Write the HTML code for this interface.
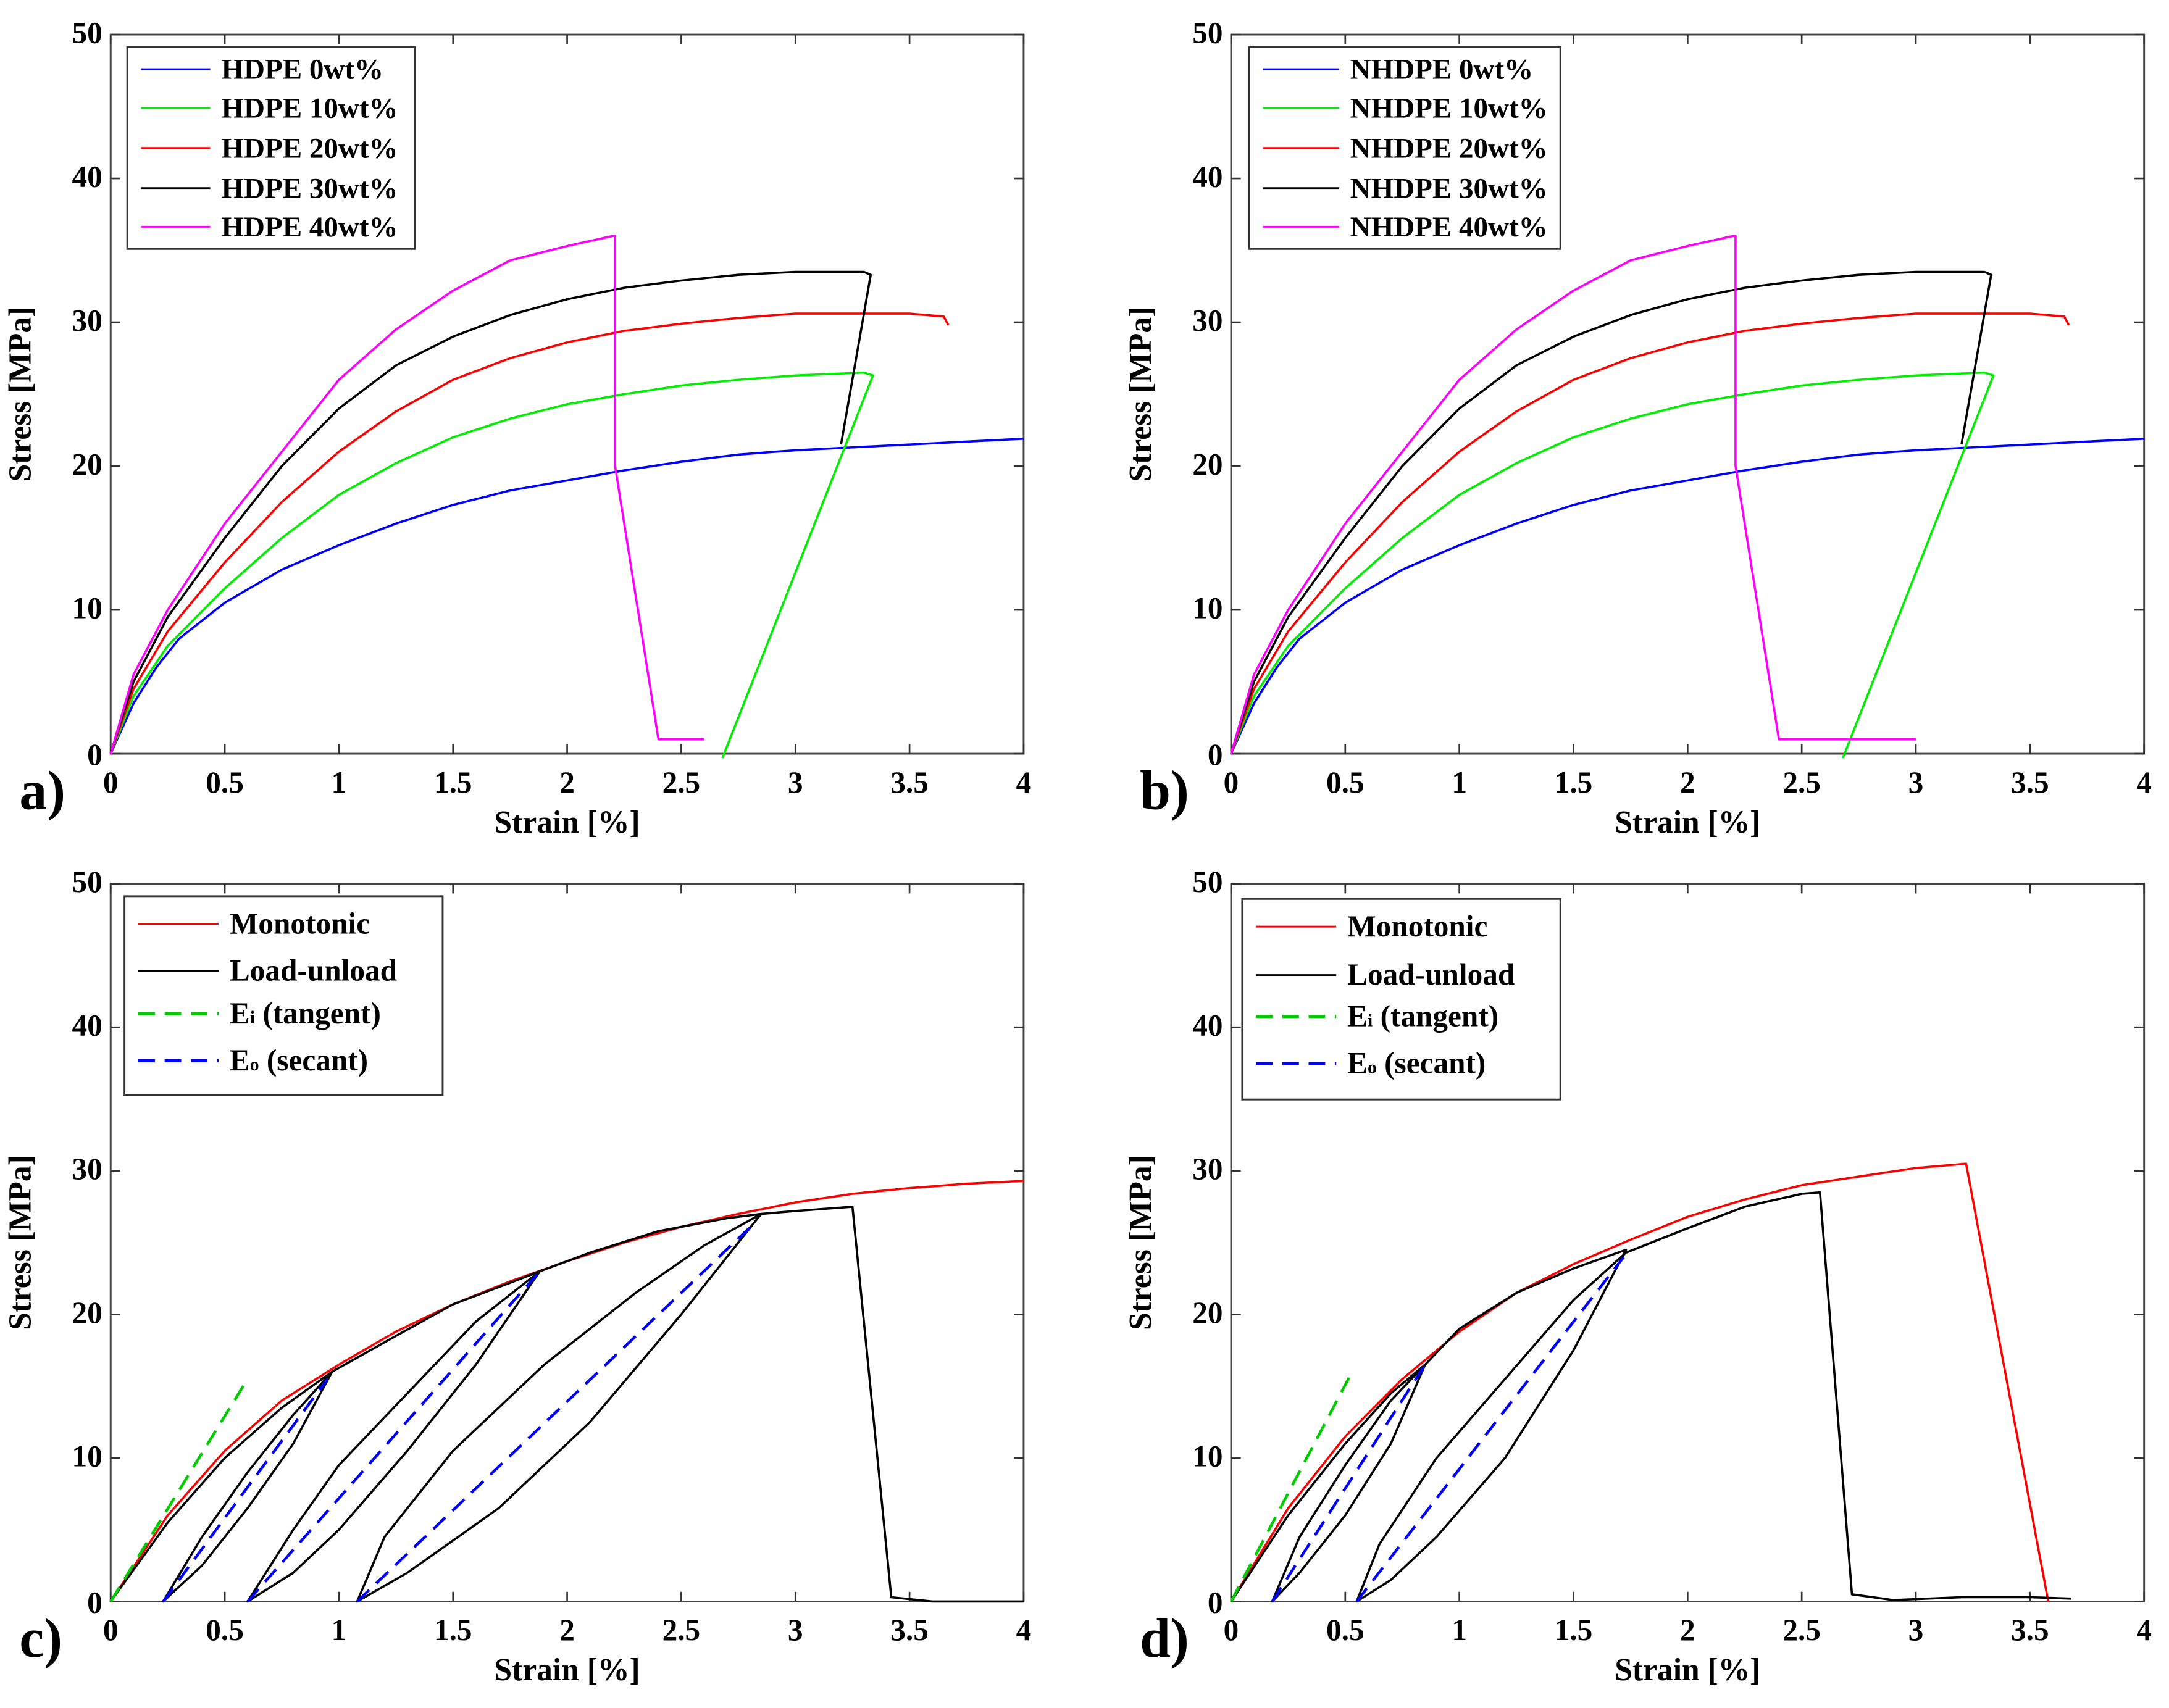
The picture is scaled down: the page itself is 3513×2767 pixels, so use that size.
<!DOCTYPE html>
<html><head><meta charset="utf-8"><style>
html,body{margin:0;padding:0;background:#fff;}
svg{display:block;}
text{font-family:"Liberation Serif",serif;font-weight:bold;fill:#000;}
</style></head><body>
<svg id="fig" width="3513" height="2767" viewBox="0 0 1568 1235" xmlns="http://www.w3.org/2000/svg"></svg>
<script>
// ---- data: [strain %, stress MPa] ----
const hdpe0 = [[0,0],[0.1,3.5],[0.2,6],[0.3,8],[0.5,10.5],[0.75,12.8],[1,14.5],[1.25,16],[1.5,17.3],[1.75,18.3],[2,19],[2.25,19.7],[2.5,20.3],[2.75,20.8],[3,21.1],[3.25,21.3],[3.5,21.5],[3.75,21.7],[4,21.9]];
const hdpe10 = [[0,0],[0.1,4],[0.25,7.5],[0.5,11.5],[0.75,15],[1,18],[1.25,20.2],[1.5,22],[1.75,23.3],[2,24.3],[2.25,25],[2.5,25.6],[2.75,26],[3,26.3],[3.3,26.5],[3.34,26.3],[2.68,-0.3]];
const hdpe20 = [[0,0],[0.1,4.5],[0.25,8.5],[0.5,13.3],[0.75,17.5],[1,21],[1.25,23.8],[1.5,26],[1.75,27.5],[2,28.6],[2.25,29.4],[2.5,29.9],[2.75,30.3],[3,30.6],[3.25,30.6],[3.5,30.6],[3.65,30.4],[3.67,29.8]];
const hdpe30 = [[0,0],[0.1,5],[0.25,9.5],[0.5,15],[0.75,20],[1,24],[1.25,27],[1.5,29],[1.75,30.5],[2,31.6],[2.25,32.4],[2.5,32.9],[2.75,33.3],[3,33.5],[3.3,33.5],[3.33,33.3],[3.2,21.5]];
const hdpe40a = [[0,0],[0.1,5.5],[0.25,10],[0.5,16],[0.75,21],[1,26],[1.25,29.5],[1.5,32.2],[1.75,34.3],[2,35.3],[2.2,36],[2.21,36],[2.21,20],[2.4,1],[2.6,1]];
const hdpe40b = [[0,0],[0.1,5.5],[0.25,10],[0.5,16],[0.75,21],[1,26],[1.25,29.5],[1.5,32.2],[1.75,34.3],[2,35.3],[2.2,36],[2.21,36],[2.21,20],[2.4,1],[3.0,1]];
const monoC = [[0,0],[0.25,6],[0.5,10.5],[0.75,14],[1,16.5],[1.25,18.8],[1.5,20.7],[1.75,22.3],[2,23.7],[2.25,25],[2.5,26.1],[2.75,27],[3,27.8],[3.25,28.4],[3.5,28.8],[3.75,29.1],[4,29.3]];
const cycC = [[0,0],[0.25,5.5],[0.5,10],[0.75,13.5],[0.97,16],[0.8,11],[0.6,6.5],[0.4,2.5],[0.23,0],[0.4,4.5],[0.6,9],[0.8,13],[0.97,16],[1.25,18.5],[1.5,20.7],[1.75,22.2],[1.88,23],[1.6,16.5],[1.3,10.5],[1,5],[0.8,2],[0.6,0],[0.8,5],[1.0,9.5],[1.3,14.5],[1.6,19.5],[1.88,23],[2.1,24.3],[2.4,25.8],[2.7,26.7],[2.85,27],[2.5,20],[2.1,12.5],[1.7,6.5],[1.3,2],[1.08,0],[1.2,4.5],[1.5,10.5],[1.9,16.5],[2.3,21.5],[2.6,24.8],[2.85,27],[3.0,27.2],[3.25,27.5],[3.42,0.3],[3.6,0],[4,0]];
const tanC = [[0,0],[0.6,15.5]];
const secC = [[[0.23,0],[0.95,15.5]],[[0.6,0],[1.88,23]],[[1.08,0],[2.83,26.5]]];
const monoD = [[0,0],[0.25,6.5],[0.5,11.5],[0.75,15.5],[1,18.8],[1.25,21.5],[1.5,23.5],[1.75,25.2],[2,26.8],[2.25,28],[2.5,29],[2.75,29.6],[3,30.2],[3.22,30.5],[3.58,0]];
const cycD = [[0,0],[0.25,6],[0.5,11],[0.7,14.5],[0.85,16.5],[0.7,11],[0.5,6],[0.3,2],[0.18,0],[0.3,4.5],[0.5,9.5],[0.7,14],[0.85,16.5],[1,19],[1.25,21.5],[1.5,23.2],[1.73,24.5],[1.5,17.5],[1.2,10],[0.9,4.5],[0.7,1.5],[0.55,0],[0.65,4],[0.9,10],[1.2,15.5],[1.5,21],[1.73,24.3],[2,26],[2.25,27.5],[2.5,28.4],[2.58,28.5],[2.72,0.5],[2.9,0.1],[3.2,0.3],[3.5,0.3],[3.68,0.2]];
const tanD = [[0,0],[0.53,16]];
const secD = [[[0.18,0],[0.85,16.5]],[[0.55,0],[1.72,24]]];
const xTicks = [0,0.5,1,1.5,2,2.5,3,3.5,4];
const xTickLabels = ["0","0.5","1","1.5","2","2.5","3","3.5","4"];
const yTicks = [0,10,20,30,40,50];
const yTickLabels = ["0","10","20","30","40","50"];
const legendA = ["HDPE 0wt%","HDPE 10wt%","HDPE 20wt%","HDPE 30wt%","HDPE 40wt%"];
const legendB = ["NHDPE 0wt%","NHDPE 10wt%","NHDPE 20wt%","NHDPE 30wt%","NHDPE 40wt%"];
const legendCD = [["Monotonic","",""],["Load-unload","",""],["E","i"," (tangent)"],["E","o"," (secant)"]];

const NS="http://www.w3.org/2000/svg";
const svg=document.getElementById('fig');
function mk(tag,attrs,parent){const e=document.createElementNS(NS,tag);for(const k in attrs)e.setAttribute(k,attrs[k]);(parent||svg).appendChild(e);return e;}

function panel(id,L,R,T,B,letter){
  const g=mk('g',{});
  
  
  const sx=v=>L+(v/4)*(R-L), sy=v=>B-(v/50)*(B-T);
  const box=mk('rect',{x:L,y:T,width:R-L,height:B-T,fill:'none',stroke:'#444','stroke-width':1.3},g);
  
  
  xTicks.forEach((t,i)=>{
    const x=sx(t);
    mk('line',{x1:x,x2:x,y1:B,y2:B-7,stroke:'#333','stroke-width':1.2},g);
    mk('line',{x1:x,x2:x,y1:T,y2:T+7,stroke:'#333','stroke-width':1.2},g);
    const tx=mk('text',{x:x,y:B+28,'text-anchor':'middle','font-size':22},g);
    tx.textContent=xTickLabels[i];
    
    
  });
  yTicks.forEach((t,i)=>{
    const y=sy(t);
    mk('line',{x1:L,x2:L+7,y1:y,y2:y,stroke:'#333','stroke-width':1.2},g);
    mk('line',{x1:R,x2:R-7,y1:y,y2:y,stroke:'#333','stroke-width':1.2},g);
    const ty=mk('text',{x:L-6,y:y+ (i===0?8:6),'text-anchor':'end','font-size':22},g);
    ty.textContent=yTickLabels[i];
    
    
  });
  const xl=mk('text',{x:(L+R)/2,y:B+57,'text-anchor':'middle','font-size':23},g);
  xl.textContent='Strain [%]';
  
  
  const cy=(T+B)/2;
  const yl=mk('text',{x:L-58,y:cy,'text-anchor':'middle','font-size':23,transform:`rotate(-90 ${L-58} ${cy})`},g);
  yl.textContent='Stress [MPa]';
  
  
  const pl=mk('text',{x:L-66,y:B+40,'font-size':40},g);
  pl.textContent=letter;
  
  
  return {g,sx,sy};
}
function series(p,data,color,name,dash){
  const d=data.map((pt,i)=>(i?'L':'M')+p.sx(pt[0]).toFixed(2)+' '+p.sy(pt[1]).toFixed(2)).join(' ');
  const e=mk('path',{d:d,fill:'none',stroke:color,'stroke-width':dash?2:1.6,'stroke-linejoin':'round'},p.g);
  if(dash)e.setAttribute('stroke-dasharray','12 7');
  
  
}
function legend(p,x,y,w,h,labels,colors,dashes,rowY,lineLen,fs){
  const lg=mk('g',{},p.g);
  
  
  mk('rect',{x:x,y:y,width:w,height:h,fill:'#fff',stroke:'#333','stroke-width':1.3},lg);
  labels.forEach((lab,i)=>{
    const ly=rowY[i];
    const ln=mk('line',{x1:x+10,x2:x+10+lineLen,y1:ly,y2:ly,stroke:colors[i],'stroke-width':dashes[i]?2.2:1.3},lg);
    if(dashes[i])ln.setAttribute('stroke-dasharray','12 7');
    const t=mk('text',{x:x+18+lineLen,y:ly+7,'font-size':fs},lg);
    if(Array.isArray(lab)){
      mk('tspan',{},t).textContent=lab[0];
      if(lab[1]) mk('tspan',{'font-size':fs*0.6},t).textContent=lab[1];
      if(lab[2]) mk('tspan',{},t).textContent=lab[2];
    } else t.textContent=lab;
    
    
  });
}
const cols5=['#0000ff','#00ee00','#ff0000','#000000','#ff00ff'];
let pa=panel('a',80,740,25,545,'a)');
series(pa,hdpe0,cols5[0],'hdpe-0wt-line');
series(pa,hdpe10,cols5[1],'hdpe-10wt-line');
series(pa,hdpe20,cols5[2],'hdpe-20wt-line');
series(pa,hdpe30,cols5[3],'hdpe-30wt-line');
series(pa,hdpe40a,cols5[4],'hdpe-40wt-line');
legend(pa,92,34,208,146,legendA,cols5,[0,0,0,0,0],[50,78,107,136,164],50,21);
let pb=panel('b',890,1550,25,545,'b)');
series(pb,hdpe0,cols5[0],'nhdpe-0wt-line');
series(pb,hdpe10,cols5[1],'nhdpe-10wt-line');
series(pb,hdpe20,cols5[2],'nhdpe-20wt-line');
series(pb,hdpe30,cols5[3],'nhdpe-30wt-line');
series(pb,hdpe40b,cols5[4],'nhdpe-40wt-line');
legend(pb,903,34,225,146,legendB,cols5,[0,0,0,0,0],[50,78,107,136,164],55,21);
const colsL=['#ff0000','#000000','#00cc00','#0000ff'];
let pc=panel('c',80,740,639,1158,'c)');
series(pc,monoC,'#ff0000','monotonic-line');
series(pc,cycC,'#000000','load-unload-line');
series(pc,tanC,'#00cc00','tangent-modulus-line',true);
secC.forEach((s,i)=>series(pc,s,'#0000ff','secant-modulus-line-'+(i+1),true));
legend(pc,90,648,230,144,legendCD,colsL,[0,0,1,1],[668,702,733,767],58,22);
let pd=panel('d',890,1550,639,1158,'d)');
series(pd,monoD,'#ff0000','monotonic-line');
series(pd,cycD,'#000000','load-unload-line');
series(pd,tanD,'#00cc00','tangent-modulus-line',true);
secD.forEach((s,i)=>series(pd,s,'#0000ff','secant-modulus-line-'+(i+1),true));
legend(pd,898,650,230,145,legendCD,colsL,[0,0,1,1],[670,705,735,769],58,22);
</script>
</body></html>
